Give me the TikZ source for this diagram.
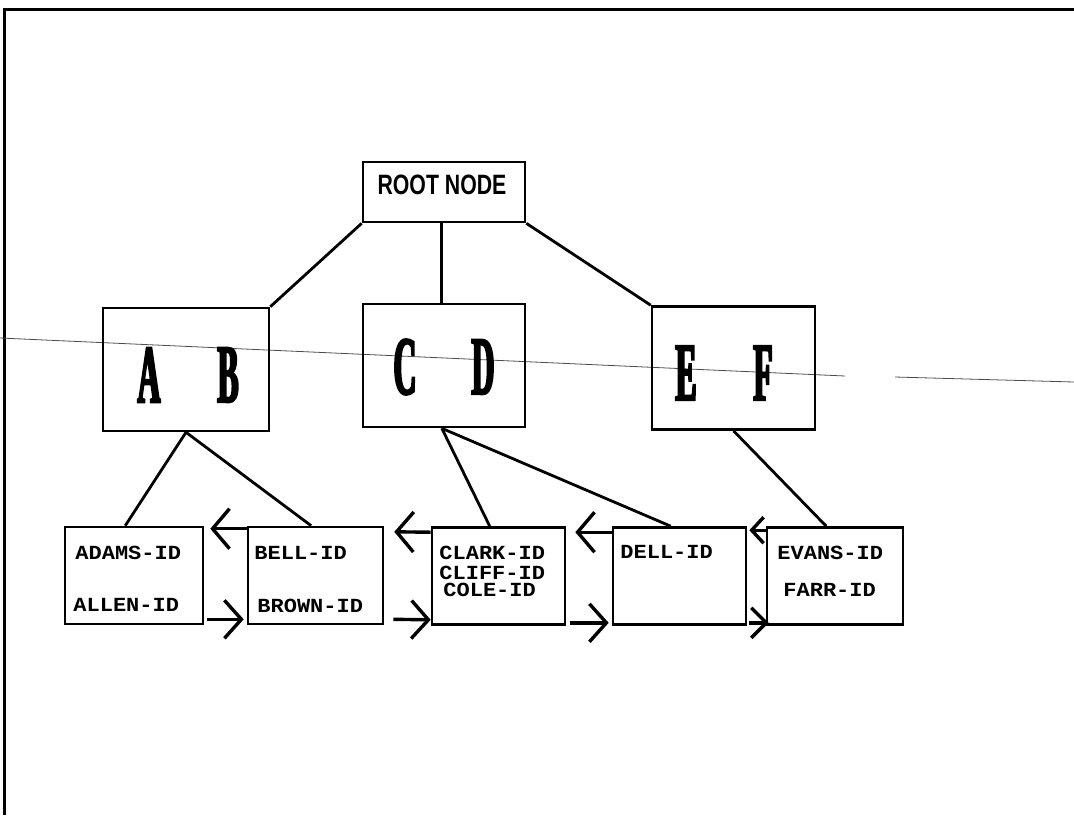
\documentclass[tikz,border=0pt]{standalone}
\usepackage{fontspec}
\setmainfont{Liberation Serif}
\newfontfamily\rootfont[FakeStretch=0.76]{Liberation Sans}
\newfontfamily\letterfont[FakeStretch=0.38, FakeBold=2.5]{Liberation Serif}
\newfontfamily\idfont[FakeStretch=1.1]{Liberation Mono}
\usetikzlibrary{arrows.meta, calc}
\tikzset{
    box/.style={
        rectangle, draw, line width=1.3pt, inner sep=0pt
    },
    keybox/.style={box, minimum width=#1, minimum height=61.5pt},
    idbox/.style={box, minimum width=#1, minimum height=48.5pt},
    letter/.style={font=\letterfont\bfseries\fontsize{41.5}{41.5}\selectfont, inner sep=0pt},
    idtext/.style={font=\idfont\bfseries\fontsize{10}{10}\selectfont, inner sep=0pt, anchor=west},
    treeline/.style={line width=1.4pt},
    backarrow/.style={-{Straight Barb[length=8.5pt,width=20pt]}, line width=1.7pt},
    fwdarrow/.style={-{Straight Barb[length=8.5pt,width=19pt]}, line width=1.7pt},
    frame/.style={line width=1.5pt},
    scanline/.style={line width=0.4pt, black!70}
}
\begin{document}
\begin{tikzpicture}[x=0.5pt, y=-0.5pt]
    \useasboundingbox (0,0) rectangle (1074,815);

    % Page frame and scan line
    \draw[frame] (4,815) -- (4,9) -- (1074,9);
    \draw[scanline] (0,338) -- (845,376);
    \draw[scanline] (895,377) -- (1074,382);

    % Root
    \node[box, minimum width=81pt, minimum height=30pt] (root) at (444,192) {};
    \node[font=\rootfont\bfseries\fontsize{14}{14}\selectfont, inner sep=0pt] (roottext) at (442,185) {ROOT NODE};

    % Index level
    \node[keybox=83pt] (ab) at (186,369.5) {};
    \node[keybox=81pt] (cd) at (444,365.5) {};
    \node[keybox=81.5pt] (ef) at (733.5,368) {};

    \node[letter] (la) at (149,375) {A};
    \node[letter] (lb) at (228,375) {B};
    \node[letter] (lc) at (405,367) {C};
    \node[letter] (ld) at (483,367) {D};
    \node[letter] (le) at (686,373) {E};
    \node[letter] (lf) at (763,373) {F};

    % Leaf level
    \node[idbox=69pt] (adams) at (134,575.5) {};
    \node[idbox=67.5pt] (bell) at (315.5,575.5) {};
    \node[idbox=66.5pt] (clark) at (498.5,576) {};
    \node[idbox=66.5pt] (dell) at (679.5,576) {};
    \node[idbox=68pt] (evans) at (835,576) {};

    \node[idtext] (adamsid) at (75,553) {ADAMS-ID};
    \node[idtext] (allenid) at (73,605) {ALLEN-ID};
    \node[idtext] (bellid) at (254,553) {BELL-ID};
    \node[idtext] (brownid) at (257,606) {BROWN-ID};
    \node[idtext] (clarkid) at (439,553) {CLARK-ID};
    \node[idtext] (cliffid) at (439,573) {CLIFF-ID};
    \node[idtext] (coleid) at (443,590) {COLE-ID};
    \node[idtext] (dellid) at (620,552) {DELL-ID};
    \node[idtext] (evansid) at (777,553) {EVANS-ID};
    \node[idtext] (farrid) at (783,590) {FARR-ID};

    % Tree lines
    \draw[treeline] (root.south west) -- (ab.north east);
    \draw[treeline] (root.265) -- (root.265 |- cd.north);
    \draw[treeline] (root.south east) -- (ef.north west);
    \draw[treeline] (ab.south) -- (adams.100);
    \draw[treeline] (ab.south) -- (bell.95);
    \draw[treeline] (cd.268) -- (clark.100);
    \draw[treeline] (cd.268) -- (dell.100);
    \draw[treeline] (ef.south) -- (evans.100);

    % Leaf chain
    \draw[backarrow, shorten >=3pt] ($(bell.north west)+(0,3)$) -- ($(adams.north east)+(0,3)$);
    \draw[fwdarrow] ($(adams.south east)+(3,-6)$) -- ($(bell.south west)+(-3,-6)$);
    \draw[backarrow, shorten >=5pt] ($(clark.north west)+(0,6)$) -- ($(bell.north east)+(0,6)$);
    \draw[fwdarrow] ($(bell.south east)+(9,-6)$) -- ($(clark.south west)+(0,-6)$);
    \draw[backarrow, shorten >=4.5pt] ($(dell.north west)+(0,6)$) -- ($(clark.north east)+(0,6)$);
    \draw[fwdarrow] ($(clark.south east)+(4,-3)$) -- ($(dell.south west)+(-3,-3)$);
    \draw[-{Straight Barb[length=6pt,width=13pt]}, line width=1.7pt, shorten >=1pt] ($(evans.north west)+(0,4)$) -- ($(dell.north east)+(0,4)$);
    \draw[-{Straight Barb[length=7.5pt,width=15pt]}, line width=1.7pt] ($(dell.south east)+(2,-3)$) -- ($(evans.south west)+(3,-3)$);
\end{tikzpicture}
\end{document}
